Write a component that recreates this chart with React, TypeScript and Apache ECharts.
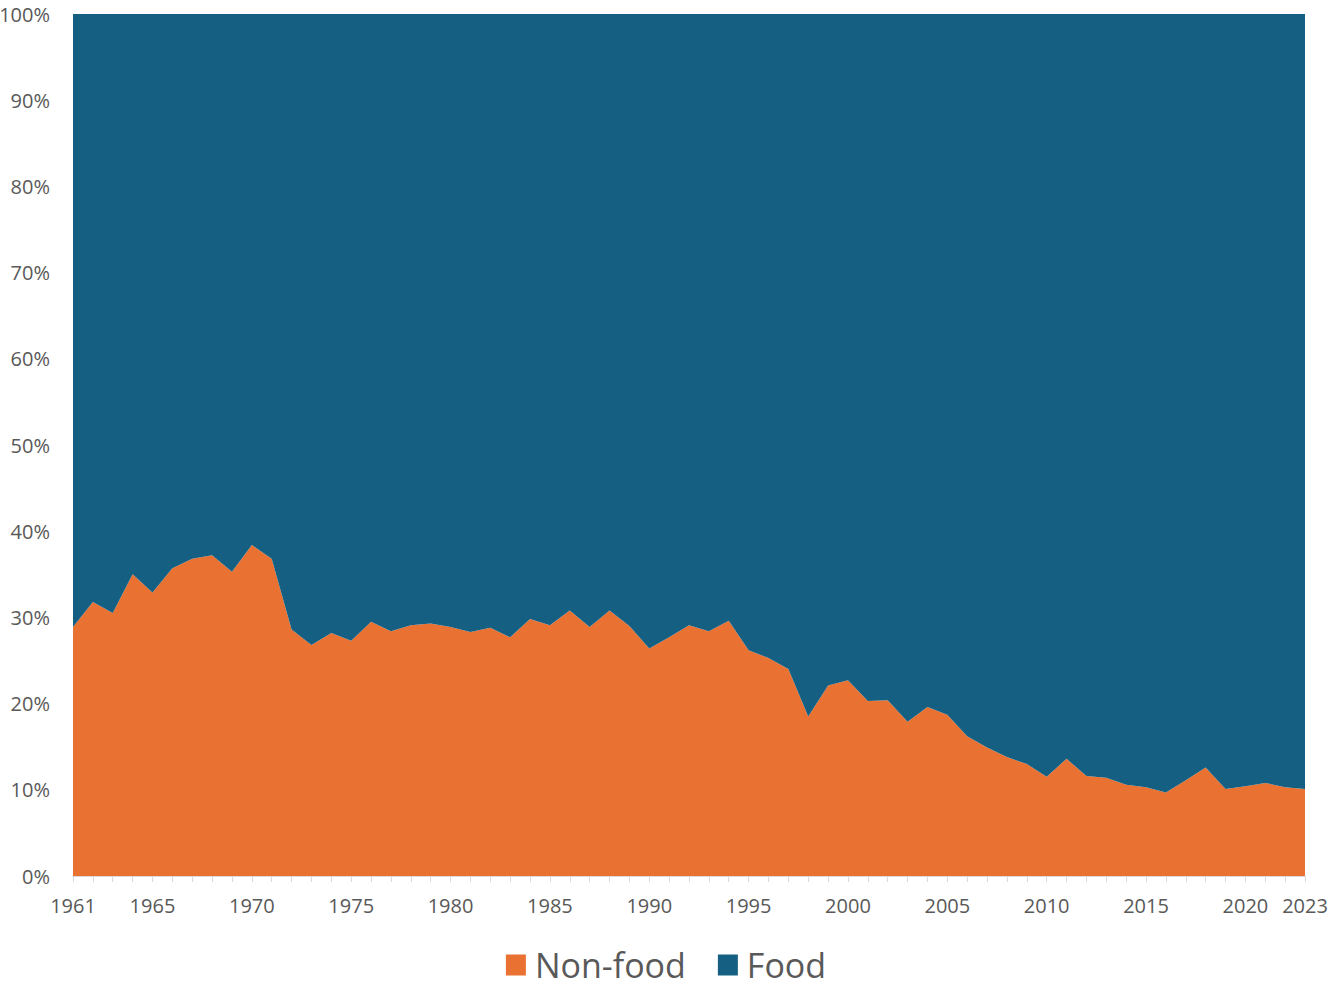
import React, { useEffect, useRef } from "react";
import * as echarts from "echarts";

const years: string[] = [
  "1961","1962","1963","1964","1965","1966","1967","1968","1969","1970",
  "1971","1972","1973","1974","1975","1976","1977","1978","1979","1980",
  "1981","1982","1983","1984","1985","1986","1987","1988","1989","1990",
  "1991","1992","1993","1994","1995","1996","1997","1998","1999","2000",
  "2001","2002","2003","2004","2005","2006","2007","2008","2009","2010",
  "2011","2012","2013","2014","2015","2016","2017","2018","2019","2020",
  "2021","2022","2023",
];

const nonFood: number[] = [
  28.9, 31.8, 30.5, 35.0, 32.9, 35.7, 36.8, 37.2, 35.3, 38.4,
  36.8, 28.6, 26.8, 28.2, 27.3, 29.5, 28.4, 29.1, 29.3, 28.9,
  28.3, 28.8, 27.7, 29.8, 29.1, 30.8, 28.9, 30.8, 29.0, 26.4,
  27.7, 29.1, 28.4, 29.6, 26.2, 25.3, 24.0, 18.5, 22.1, 22.7,
  20.3, 20.4, 17.9, 19.6, 18.7, 16.2, 14.9, 13.8, 13.0, 11.5,
  13.6, 11.6, 11.4, 10.6, 10.3, 9.7, 11.1, 12.6, 10.1, 10.4,
  10.8, 10.3, 10.1,
];

const food: number[] = [
  71.1, 68.2, 69.5, 65.0, 67.1, 64.3, 63.2, 62.8, 64.7, 61.6,
  63.2, 71.4, 73.2, 71.8, 72.7, 70.5, 71.6, 70.9, 70.7, 71.1,
  71.7, 71.2, 72.3, 70.2, 70.9, 69.2, 71.1, 69.2, 71.0, 73.6,
  72.3, 70.9, 71.6, 70.4, 73.8, 74.7, 76.0, 81.5, 77.9, 77.3,
  79.7, 79.6, 82.1, 80.4, 81.3, 83.8, 85.1, 86.2, 87.0, 88.5,
  86.4, 88.4, 88.6, 89.4, 89.7, 90.3, 88.9, 87.4, 89.9, 89.6,
  89.2, 89.7, 89.9,
];

const seriesNames = ["Non-food", "Food"];
const colors = ["#E97132", "#156082"];

export default function App() {
  const ref = useRef<HTMLDivElement>(null);
  useEffect(() => {
    if (!ref.current) return;
    const chart = echarts.init(ref.current, undefined, { renderer: "svg" });
    const lastIdx = years.length - 1;
    chart.setOption({
      animation: false,
      backgroundColor: "#ffffff",
      textStyle: { fontFamily: "'Open Sans', 'Noto Sans', sans-serif" },
      grid: {
        left: 73,
        right: 27,
        top: 14,
        bottom: 112,
        containLabel: false,
        outerBoundsMode: "none",
      },
      legend: {
        bottom: 1,
        left: "center",
        itemWidth: 20,
        itemHeight: 21,
        itemGap: 32,
        icon: "rect",
        textStyle: { fontSize: 34, color: "#595959", padding: [0, 0, 0, 4] },
        data: seriesNames,
      },
      xAxis: {
        type: "category",
        data: years,
        boundaryGap: false,
        axisLine: { show: true, lineStyle: { color: "#D9D9D9", width: 1 } },
        axisTick: {
          show: true,
          interval: 0,
          length: 6,
          lineStyle: { color: "#D9D9D9" },
        },
        axisLabel: {
          interval: (i: number, v: string) =>
            i === 0 || i === lastIdx || Number(v) % 5 === 0,
          color: "#595959",
          fontSize: 20,
          margin: 19,
          showMaxLabel: true,
        },
      },
      yAxis: {
        type: "value",
        min: 0,
        max: 100,
        interval: 10,
        axisLine: { show: false },
        axisTick: { show: false },
        splitLine: { show: false },
        axisLabel: {
          formatter: "{value}%",
          color: "#595959",
          fontSize: 20,
          margin: 23,
        },
      },
      series: [
        {
          name: seriesNames[0],
          type: "line",
          stack: "total",
          data: nonFood,
          symbol: "none",
          lineStyle: { width: 0 },
          itemStyle: { color: colors[0] },
          areaStyle: { color: colors[0], opacity: 1 },
        },
        {
          name: seriesNames[1],
          type: "line",
          stack: "total",
          data: food,
          symbol: "none",
          lineStyle: { width: 0 },
          itemStyle: { color: colors[1] },
          areaStyle: { color: colors[1], opacity: 1 },
        },
      ],
    });
    return () => chart.dispose();
  }, []);
  return (
    <div
      ref={ref}
      style={{ position: "fixed", left: 0, top: 0, width: 1332, height: 988 }}
    />
  );
}
